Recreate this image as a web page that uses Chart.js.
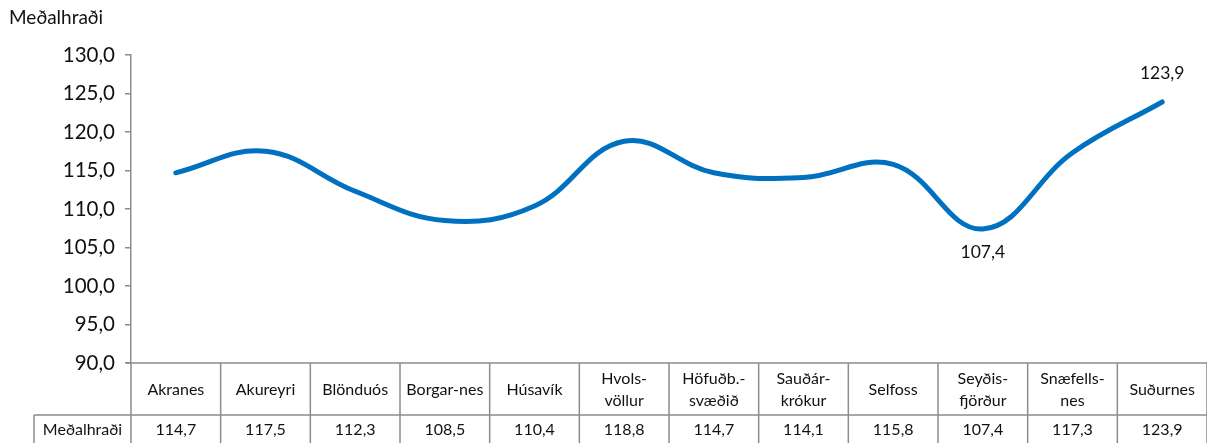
<!DOCTYPE html>
<html>
<head>
<meta charset="utf-8">
<script src="https://cdn.jsdelivr.net/npm/chart.js@4/dist/chart.umd.min.js"></script>
<style>
  html, body { margin: 0; padding: 0; background: #fff; }
  #wrap { position: relative; width: 1207px; height: 443px; }
</style>
</head>
<body>
<div id="wrap"><canvas id="chart"></canvas></div>
<script>
// data
const categories = [
  ['Akranes'], ['Akureyri'], ['Blönduós'], ['Borgar-nes'], ['Húsavík'],
  ['Hvols-', 'völlur'], ['Höfuðb.-', 'svæðið'], ['Sauðár-', 'krókur'],
  ['Selfoss'], ['Seyðis-', 'fjörður'], ['Snæfells-', 'nes'], ['Suðurnes']
];
const seriesName = 'Meðalhraði';
const values = [114.7, 117.5, 112.3, 108.5, 110.4, 118.8, 114.7, 114.1, 115.8, 107.4, 117.3, 123.9];
const labelledPoints = { 9: 'below', 11: 'above' };

const FONT = 'Lato, "Open Sans", sans-serif';
const GRID = '#8c8c8c';
const fmt = v => v.toFixed(1).replace('.', ',');

// title, point labels and the data table under the plot
const tablePlugin = {
  id: 'dataTable',
  afterDraw(chart) {
    const ctx = chart.ctx;
    const x = chart.scales.x;
    const area = chart.chartArea;
    const top = area.bottom;
    const rowSplit = top + 52;
    const bottom = chart.height;
    const step = (area.right - area.left) / categories.length;

    ctx.save();
    ctx.strokeStyle = GRID;
    ctx.lineWidth = 1.5;
    ctx.beginPath();
    // axis / top line of table
    ctx.moveTo(area.left - 5, top);
    ctx.lineTo(area.right, top);
    // line between rows
    ctx.moveTo(34, rowSplit);
    ctx.lineTo(area.right, rowSplit);
    // left border of series cell
    ctx.moveTo(34, rowSplit);
    ctx.lineTo(34, bottom);
    for (let i = 0; i <= categories.length; i++) {
      const bx = area.left + i * step;
      ctx.moveTo(bx, top);
      ctx.lineTo(bx, bottom);
    }
    ctx.stroke();

    ctx.fillStyle = '#111';
    ctx.font = '16px ' + FONT;
    ctx.textAlign = 'center';
    ctx.textBaseline = 'middle';
    categories.forEach((lines, i) => {
      const cx = x.getPixelForValue(i);
      const mid = (top + rowSplit) / 2 + 1;
      lines.forEach((t, j) => {
        ctx.fillText(t, cx, mid + (j - (lines.length - 1) / 2) * 22);
      });
      ctx.fillText(fmt(values[i]), cx, rowSplit + 15);
    });
    ctx.fillText(seriesName, (34 + area.left) / 2, rowSplit + 15);

    // axis title
    ctx.font = '19px ' + FONT;
    ctx.textAlign = 'left';
    ctx.fillText(seriesName, 9, 18);

    // point labels
    ctx.font = '17.5px ' + FONT;
    ctx.textAlign = 'center';
    const meta = chart.getDatasetMeta(0);
    Object.keys(labelledPoints).forEach(k => {
      const p = meta.data[k];
      const dy = labelledPoints[k] === 'above' ? -29 : 23;
      ctx.fillText(fmt(values[k]), p.x, p.y + dy);
    });
    ctx.restore();
  }
};

new Chart(document.getElementById('chart'), {
  type: 'line',
  data: {
    labels: categories.map(c => c.join(' ')),
    datasets: [{
      label: seriesName,
      data: values,
      borderColor: '#0070C0',
      borderWidth: 5,
      borderCapStyle: 'round',
      tension: 0.4,
      pointRadius: 0,
      fill: false
    }]
  },
  options: {
    responsive: true,
    maintainAspectRatio: false,
    animation: false,
    layout: { padding: { top: 55, bottom: 80, right: 0, left: 0 } },
    plugins: { legend: { display: false }, tooltip: { enabled: false } },
    scales: {
      x: {
        display: false,
        offset: true
      },
      y: {
        min: 90,
        max: 130,
        afterFit(scale) { scale.width = 131; },
        border: { display: true, color: GRID, width: 1.5 },
        grid: { display: true, drawOnChartArea: false, drawTicks: true, tickLength: 6, color: GRID, lineWidth: 1.5 },
        ticks: {
          stepSize: 5,
          padding: 10,
          color: '#111',
          font: { family: FONT, size: 20.5 },
          callback: v => fmt(v)
        }
      }
    }
  },
  plugins: [tablePlugin]
});
</script>
</body>
</html>
